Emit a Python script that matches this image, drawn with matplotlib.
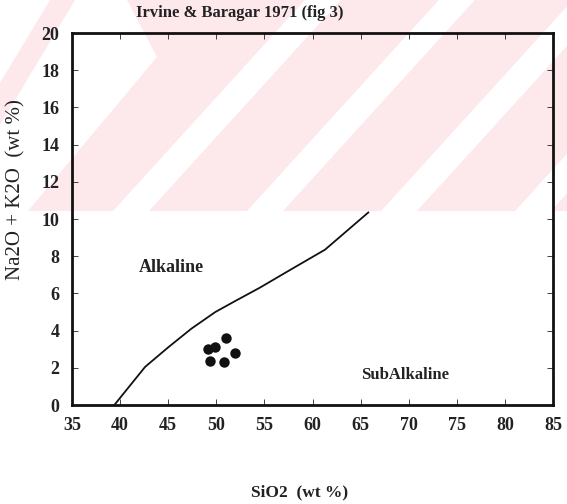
import matplotlib
matplotlib.use("Agg")
import matplotlib.pyplot as plt
from matplotlib.patches import Polygon, Rectangle

# Irvine & Baragar (1971) alkaline / subalkaline dividing curve
curve_sio2 = [39.4, 42.6, 45.0, 47.4, 49.9, 52.0, 54.5, 57.8, 61.3, 65.8]
curve_alk = [0.0, 2.05, 3.1, 4.1, 5.0, 5.6, 6.3, 7.3, 8.35, 10.35]

# Sample analyses
sample_sio2 = [49.1, 49.9, 51.0, 51.9, 49.3, 50.8]
sample_alk = [3.0, 3.1, 3.6, 2.8, 2.35, 2.3]

x_ticks = [35, 40, 45, 50, 55, 60, 65, 70, 75, 80, 85]
y_ticks = [0, 2, 4, 6, 8, 10, 12, 14, 16, 18, 20]

W, H = 567, 504
fig = plt.figure(figsize=(W / 100, H / 100), dpi=100)
fig.patch.set_facecolor("white")

# light pink diagonal-striped band behind the upper part of the sheet
bg = fig.add_axes([0, 0, 1, 1], zorder=-1)
bg.set_xlim(0, W)
bg.set_ylim(H, 0)
bg.axis("off")
pink = "#fde8ec"
band_bottom = 211
bg.add_patch(Rectangle((0, 0), W, band_bottom, facecolor=pink, edgecolor="none"))
slope = 1.1
gap = 36
dx = band_bottom / slope
for c in [131, 265, 399, 533]:
    x0 = c - gap / 2
    x1 = c + gap / 2
    bg.add_patch(Polygon([(x0, band_bottom), (x1, band_bottom),
                          (x1 + dx, 0), (x0 + dx, 0)],
                         facecolor="white", edgecolor="none"))
# chevron-shaped clearing at the upper left
bg.add_patch(Polygon([(0, 0), (50, 0), (0, 83)], facecolor="white", edgecolor="none"))
bg.add_patch(Polygon([(0, 125), (75, 0), (127, 0), (157, 57), (28, band_bottom),
                      (0, band_bottom)],
                     facecolor="white", edgecolor="none"))

ax = fig.add_axes([72 / W, 1 - 405 / H, 481 / W, 372 / H])
ax.set_facecolor("none")
ax.set_xlim(35, 85)
ax.set_ylim(0, 20)

for s in ax.spines.values():
    s.set_linewidth(2.0)
    s.set_color("#111111")

tick_font = dict(family="Liberation Serif", weight="bold", size=13)
ax.set_xticks(x_ticks)
ax.set_yticks(y_ticks)
ax.set_xticklabels([str(v) for v in x_ticks], **tick_font)
ax.set_yticklabels([str(v) for v in y_ticks], **tick_font)
ax.tick_params(direction="in", length=4, width=0.6, top=True, right=True,
               colors="#222222", pad=9)
for lab in ax.get_xticklabels() + ax.get_yticklabels():
    lab.set_color("#222222")

ax.plot(curve_sio2, curve_alk, color="#111111", linewidth=1.3)
ax.plot(sample_sio2, sample_alk, "o", color="#111111", markersize=7.5, markeredgewidth=0)

ax.text(45.3, 7.4, "Alkaline", ha="center", va="center",
        family="Liberation Serif", weight="bold", size=13, color="#222222")
ax.text(69.6, 1.6, "SubAlkaline", ha="center", va="center",
        family="Liberation Serif", weight="bold", size=12, color="#222222")

fig.text(240 / W, 1 - 13 / H, "Irvine & Baragar 1971 (fig 3)", ha="center", va="center",
         family="Liberation Serif", weight="bold", size=12, color="#222222")
fig.text(300 / W, 1 - 492 / H, "SiO2  (wt %)", ha="center", va="center",
         family="Liberation Serif", weight="bold", size=12.5, color="#222222")
fig.text(16 / W, 1 - 190 / H, "Na2O + K2O  (wt %)", ha="center", va="center",
         rotation=90, family="Liberation Serif", size=15, color="#222222")

fig.savefig("out.png", dpi=100)
